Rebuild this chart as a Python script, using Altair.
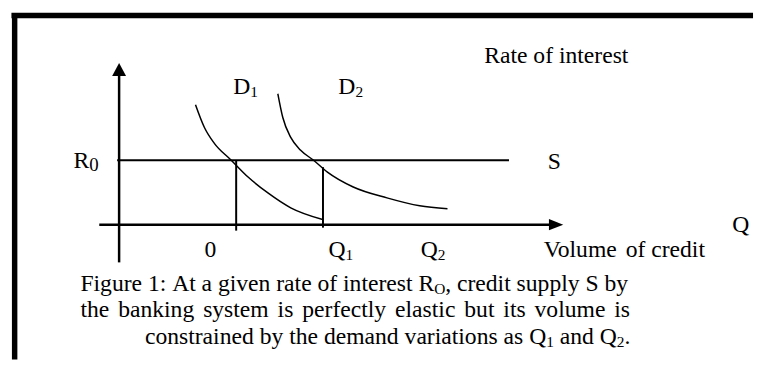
import re
import pandas as pd
import altair as alt

# ---------------- data (diagram units: q rightwards, r upwards from the origin) ----
D1_Q = [77, 86, 96, 113, 130, 150, 173, 206]
D1_R = [121, 98, 82, 65, 48, 32, 17, 5]
D2_Q = [160, 165, 173, 183, 196, 210, 236, 270, 303, 331]
D2_R = [132, 108, 88, 75, 65, 53, 38, 27, 19, 16]

SEG_NAMES = ["y-axis", "x-axis", "S", "Q1 drop", "Q2 drop"]
SEG_Q = [0, -20, -2, 118, 205.5]
SEG_Q2 = [0, 436, 393, 118, 205.5]
SEG_R = [-38, 0, 65, 65, 58]
SEG_R2 = [152, 0, 65, -6, -3]

FRAME_Q = [-108.5, -105.3]
FRAME_Q2 = [639, -105.3]
FRAME_R = [210.8, 213.3]
FRAME_R2 = [210.8, -136]

ARROW_Q = [0, 440.5]
ARROW_R = [156.5, 0]

LABEL_TEXT = ["Rate of interest", "D_{1}", "D_{2}", "R_{0}", "S", "Q", "0",
              "Q_{1}", "Q_{2}", "Volume of credit"]
LABEL_Q = [368, 115, 221, -46, 432, 618, 86, 211, 304, 428]
LABEL_R = [163, 132, 132, 57, 56, -7, -33, -33, -33, -33]

CAPTION = [
    "Figure 1: At a given rate of interest R_{O}, credit supply S by",
    "the banking system is perfectly elastic but its volume is",
    "constrained by the demand variations as Q_{1} and Q_{2}.",
]
CAPTION_Q = [-39, -39, 26]
CAPTION_END = [513, 515, None]
CAPTION_R = [-66.7, -93.3, -120]

# ---------------- text layout helpers --------------------------------------------
MAIN_SIZE = 23.8
SUB_SIZE = 15.5
SUB_DROP = 3
FONT = "Liberation Serif"

TIMES = dict(zip("abcdefghijklmnopqrstuvwxyz",
                 [444, 500, 444, 500, 444, 333, 500, 500, 278, 278, 500, 278, 778,
                  500, 500, 500, 500, 333, 389, 278, 500, 500, 722, 500, 500, 444]))
TIMES.update(dict(zip("ABCDEFGHIJKLMNOPQRSTUVWXYZ",
                      [722, 667, 667, 722, 611, 556, 722, 722, 333, 389, 722, 611, 889,
                       722, 722, 556, 722, 667, 556, 611, 722, 722, 944, 722, 722, 611])))
TIMES.update({c: 500 for c in "0123456789"})
TIMES.update({" ": 250, ",": 250, ".": 250, ":": 278})


def run_width(s, size):
    return sum(TIMES.get(c, 500) for c in s) * size / 1000


def parse(word):
    parts = re.split(r"_\{(.*?)\}", word)
    return [(p, i % 2 == 1) for i, p in enumerate(parts) if p]


def layout(text, q0, r0, q_end=None, sub_size=SUB_SIZE):
    words = text.split(" ")
    wruns = [parse(w) for w in words]
    widths = [sum(run_width(t, sub_size if s else MAIN_SIZE) for t, s in runs) for runs in wruns]
    gap = run_width(" ", MAIN_SIZE)
    if q_end is not None and len(words) > 1:
        gap = (q_end - q0 - sum(widths)) / (len(words) - 1)
    rows, q = [], q0
    for runs in wruns:
        for t, s in runs:
            size = sub_size if s else MAIN_SIZE
            rows.append({"text": t, "q": q, "r": r0 - SUB_DROP if s else r0, "size": size})
            q += run_width(t, size)
        q += gap
    return rows


rows = []
for t, q, r in zip(LABEL_TEXT, LABEL_Q, LABEL_R):
    rows += layout(t, q, r, sub_size=19 if t.startswith("R_") else SUB_SIZE)
for t, q, e, r in zip(CAPTION, CAPTION_Q, CAPTION_END, CAPTION_R):
    rows += layout(t, q, r, q_end=e)
text_df = pd.DataFrame(rows)

curves = pd.DataFrame(
    [{"curve": "D1", "q": q, "r": r} for q, r in zip(D1_Q, D1_R)]
    + [{"curve": "D2", "q": q, "r": r} for q, r in zip(D2_Q, D2_R)]
)
segs = pd.DataFrame({"name": SEG_NAMES, "q": SEG_Q, "q2": SEG_Q2, "r": SEG_R, "r2": SEG_R2})
frame = pd.DataFrame({"q": FRAME_Q, "q2": FRAME_Q2, "r": FRAME_R, "r2": FRAME_R2})
arrows = pd.DataFrame({"q": ARROW_Q, "r": ARROW_R})

# ---------------- chart --------------------------------------------------------------
xs = alt.Scale(domain=[-109, 639], nice=False, zero=False)
ys = alt.Scale(domain=[-136, 217], nice=False, zero=False)
X = lambda f="q": alt.X(f"{f}:Q", scale=xs, axis=None)
Y = lambda f="r": alt.Y(f"{f}:Q", scale=ys, axis=None)

frame_layer = alt.Chart(frame).mark_rule(color="black", strokeWidth=5.5).encode(
    x=X(), x2="q2:Q", y=Y(), y2="r2:Q")

axis_layer = alt.Chart(segs).transform_filter(
    "datum.name == 'y-axis' || datum.name == 'x-axis'"
).mark_rule(color="black", strokeWidth=2.5).encode(x=X(), x2="q2:Q", y=Y(), y2="r2:Q")

line_layer = alt.Chart(segs).transform_filter(
    "datum.name != 'y-axis' && datum.name != 'x-axis'"
).mark_rule(color="black", strokeWidth=2).encode(x=X(), x2="q2:Q", y=Y(), y2="r2:Q")

arrow_up = alt.Chart(arrows).transform_filter("datum.q == 0").mark_point(
    shape="M0,-0.93L1,0.93L-1,0.93Z", filled=True, size=196, color="black", opacity=1
).encode(x=X(), y=Y())

arrow_right = alt.Chart(arrows).transform_filter("datum.q != 0").mark_point(
    shape="M1,0L-1,-0.79L-1,0.79Z", filled=True, size=207, color="black", opacity=1
).encode(x=X(), y=Y())

curve_layer = alt.Chart(curves).mark_line(
    color="black", strokeWidth=1.5, interpolate="monotone"
).encode(x=X(), y=Y(), detail="curve:N", order="q:Q")

text_layer = alt.Chart(text_df).mark_text(
    align="left", baseline="alphabetic", font=FONT, color="black"
).encode(x=X(), y=Y(), text="text:N", size=alt.Size("size:Q", scale=None, legend=None))

chart = alt.layer(
    frame_layer, axis_layer, line_layer, curve_layer, arrow_up, arrow_right, text_layer
).properties(width=748, height=353, padding=0, background="white").configure_view(stroke=None)

chart.save("out.html", embed_options={"renderer": "svg", "actions": False})
